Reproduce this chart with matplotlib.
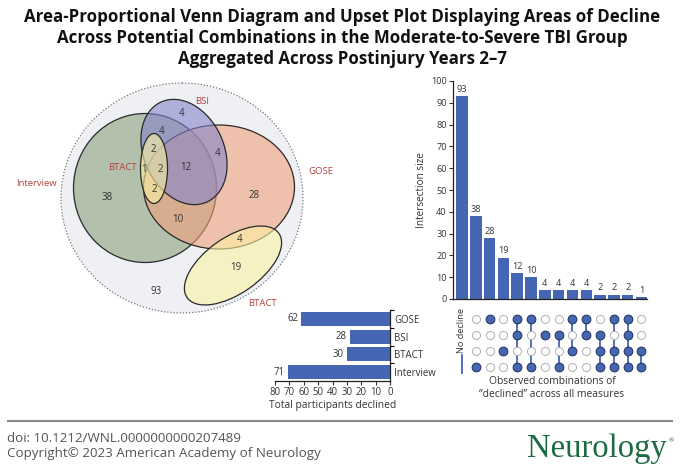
import numpy as np
import matplotlib.pyplot as plt
from matplotlib.patches import Ellipse
from matplotlib.colors import to_rgba

plt.rcParams['font.family'] = ['Open Sans', 'DejaVu Sans']

# sets, in the order of the upset rows (top to bottom)
set_names = ["GOSE", "BSI", "BTACT", "Interview"]
set_totals = [62, 28, 30, 71]

# intersections sorted by size, with the sets that declined (empty = no decline)
inter_sizes = [93, 38, 28, 19, 12, 10, 4, 4, 4, 4, 2, 2, 2, 1]
inter_sets = [
    [],
    ["Interview"],
    ["GOSE"],
    ["BTACT"],
    ["GOSE", "BSI", "Interview"],
    ["GOSE", "Interview"],
    ["BSI"],
    ["BSI", "Interview"],
    ["GOSE", "BTACT"],
    ["GOSE", "BSI"],
    ["BSI", "BTACT", "Interview"],
    ["GOSE", "BTACT", "Interview"],
    ["GOSE", "BSI", "BTACT", "Interview"],
    ["BTACT", "Interview"],
]

W, H = 680, 470
blue = '#4566b2'
red = '#b0413e'
txt = '#333333'

fig = plt.figure(figsize=(6.8, 4.7), dpi=100)
bg = fig.add_axes([0, 0, 1, 1])
bg.set_xlim(0, W)
bg.set_ylim(H, 0)
bg.axis('off')


def box(x0, y0, x1, y1):
    # pixel box (y down) -> figure fraction
    return [x0 / W, 1 - y1 / H, (x1 - x0) / W, (y1 - y0) / H]


# title
bg.text(342, 38, "Area-Proportional Venn Diagram and Upset Plot Displaying Areas of Decline\n"
        "Across Potential Combinations in the Moderate-to-Severe TBI Group\n"
        "Aggregated Across Postinjury Years 2\u20137",
        ha='center', va='center', fontsize=12.2, fontweight='bold', linespacing=1.22, color='#111')

# ---- Venn diagram (hand placed shapes) ----
bg.add_patch(Ellipse((182, 198), 242, 230, fc='#eef0f4', ec='#777', ls=(0, (1, 1.5)), lw=0.9))
venn_shapes = [
    ((145, 188), 143, 149, 0, '#8aa07c'),     # Interview
    ((219, 187), 151, 124, 0, '#f1a07c'),     # GOSE
    ((184, 152), 80, 110, -25, '#8584cc'),    # BSI
    ((154, 168.5), 27, 70, 0, '#fbf3a2'),     # BTACT (small)
    ((233, 265.5), 112, 56, -35, '#fbf3a2'),  # BTACT (large)
]
for c, w, h, ang, col in venn_shapes:
    bg.add_patch(Ellipse(c, w, h, angle=ang, fc=to_rgba(col, 0.6), ec='#2a2a2a', lw=0.9))

region_pos = [(156, 291), (107, 197), (254, 196), (236, 267), (186, 168), (178, 220),
              (182, 113), (162, 132), (240, 240), (218, 153), (153, 150), (154, 190),
              (160, 169), (144, 170)]
for (x, y), n in zip(region_pos, inter_sizes):
    bg.text(x, y, str(n), ha='center', va='center', fontsize=7, color=txt)

venn_labels = [("BSI", 202, 102), ("BTACT", 122, 168), ("GOSE", 321, 172),
               ("Interview", 36, 184), ("BTACT", 262, 303)]
for s, x, y in venn_labels:
    bg.text(x, y, s, ha='center', va='center', fontsize=6.8, color=red)

# ---- intersection size bars ----
xs = np.arange(len(inter_sizes))
ax = fig.add_axes(box(453, 81, 647, 299))
ax.bar(xs, inter_sizes, width=0.83, color=blue)
for x, n in zip(xs, inter_sizes):
    ax.text(x, n + 1, str(n), ha='center', va='bottom', fontsize=6.6, color=txt)
ax.set_xlim(-0.65, 13.4)
ax.set_ylim(0, 100)
ax.set_yticks(np.arange(0, 101, 10))
ax.set_xticks([])
ax.tick_params(axis='y', labelsize=6.6, length=3, width=0.8, colors=txt, pad=1.5)
ax.set_ylabel("Intersection size", fontsize=7.2, color=txt, labelpad=3)
for sp in ['top', 'right']:
    ax.spines[sp].set_visible(False)
for sp in ['left', 'bottom']:
    ax.spines[sp].set_color('#222')
    ax.spines[sp].set_linewidth(0.9)

# ---- dot matrix ----
mx = fig.add_axes(box(453, 311, 647, 375))
mx.set_xlim(-0.65, 13.4)
mx.set_ylim(3.5, -0.5)
mx.axis('off')
for x, members in zip(xs, inter_sets):
    if not members:
        continue
    rows = [set_names.index(m) for m in members]
    if len(rows) > 1:
        mx.plot([x, x], [min(rows), max(rows)], color=blue, lw=1.3, zorder=1)
    for r in range(len(set_names)):
        if r in rows:
            mx.scatter(x, r, s=40, color=blue, edgecolors='#1f2f5a', linewidths=0.7, zorder=3)
        else:
            mx.scatter(x, r, s=34, color='white', edgecolors='#b0b0b0', linewidths=0.7, zorder=2)
mx.text(0, 0.7, "No decline", rotation=90, ha='center', va='center', fontsize=6.6, color=txt)
mx.plot([0, 0], [2.25, 3.4], color=blue, lw=1.3, clip_on=False)
bg.text(552, 388, "Observed combinations of\n\u201cdeclined\u201d across all measures",
        ha='center', va='center', fontsize=7.4, color=txt, linespacing=1.25)

# ---- set size bars ----
sx = fig.add_axes(box(275, 310, 390, 381))
ys = np.arange(len(set_names))
sx.barh(ys, set_totals, height=0.8, color=blue)
for y, n in zip(ys, set_totals):
    sx.text(n + 2, y, str(n), ha='right', va='center', fontsize=6.9, color=txt)
sx.set_xlim(80, 0)
sx.set_ylim(3.5, -0.5)
sx.set_xticks(np.arange(0, 81, 10))
sx.yaxis.tick_right()
sx.set_yticks(ys)
sx.set_yticklabels(set_names)
sx.set_yticks([-0.5, 0.5, 1.5, 2.5], minor=True)
sx.tick_params(axis='y', which='major', length=0, labelsize=6.9, colors=txt, pad=3)
sx.tick_params(axis='y', which='minor', length=3, width=0.8)
sx.tick_params(axis='x', labelsize=6.9, length=3, width=0.8, colors=txt, pad=1.5)
sx.set_xlabel("Total participants declined", fontsize=7.4, color=txt, labelpad=1)
for sp in ['top', 'left']:
    sx.spines[sp].set_visible(False)
for sp in ['right', 'bottom']:
    sx.spines[sp].set_color('#222')
    sx.spines[sp].set_linewidth(0.9)

# ---- footer ----
bg.plot([8, 672], [421, 421], color='#8a8a8a', lw=1.5)
bg.text(7, 438, "doi: 10.1212/WNL.0000000000207489", ha='left', va='center', fontsize=9.6, color='#555')
bg.text(7, 454, "Copyright\u00a9 2023 American Academy of Neurology", ha='left', va='center',
        fontsize=9.6, color='#555')
bg.text(527, 457, "Neurology", ha='left', va='baseline', fontsize=23.5, color='#1d6b3f',
        family='Liberation Serif')
bg.text(669, 441, "\u00ae", ha='left', va='center', fontsize=4.5, color='#1d6b3f')

fig.savefig("out.png", dpi=100)
